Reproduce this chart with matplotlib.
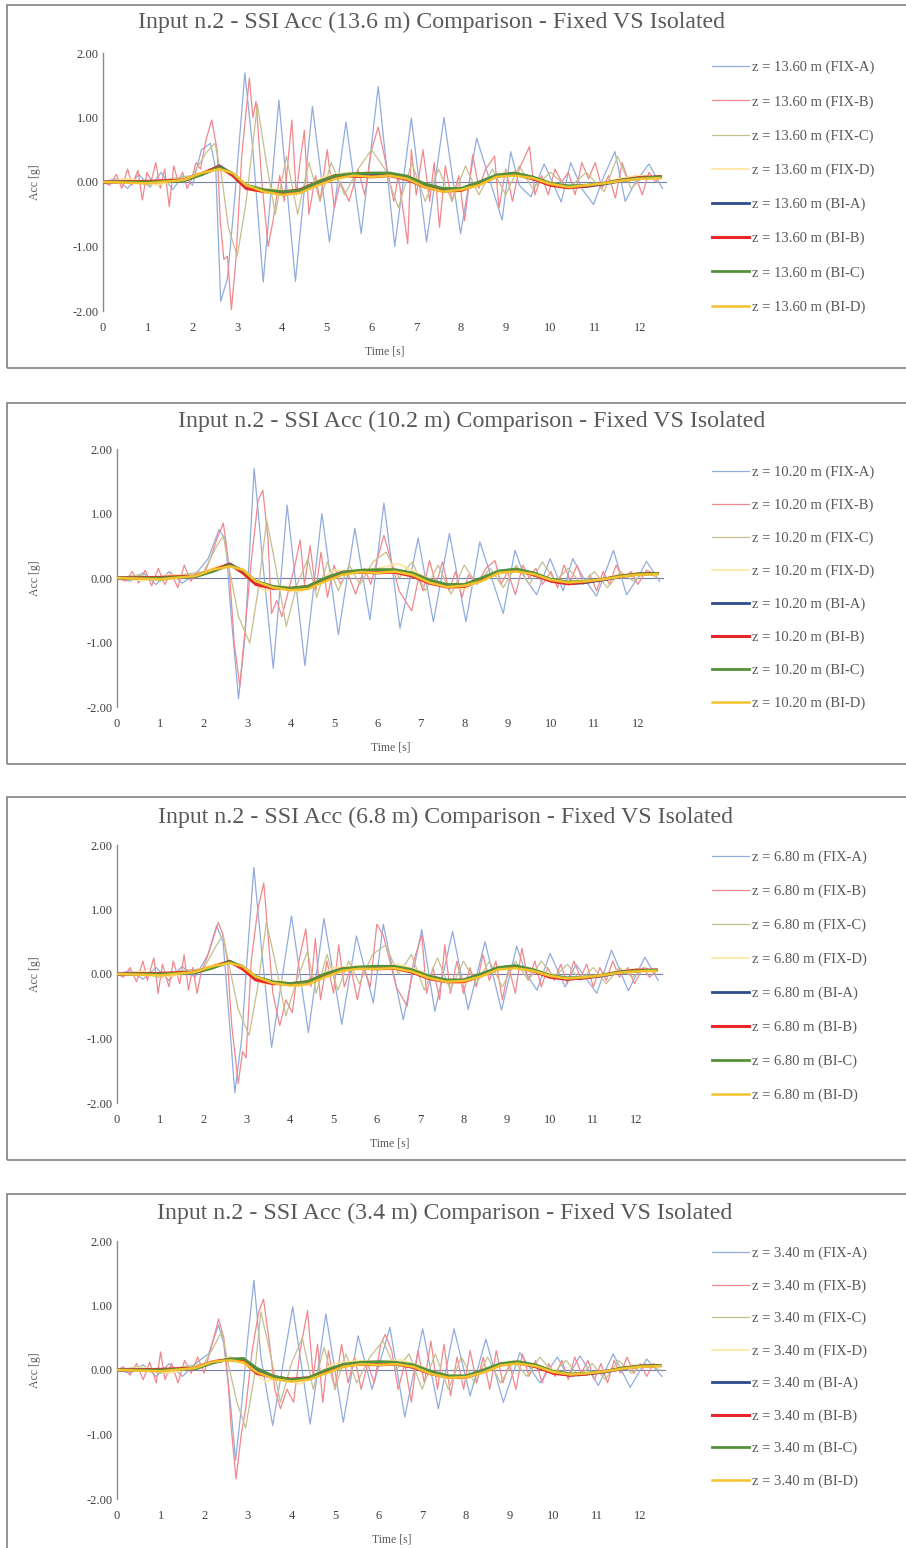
import matplotlib
matplotlib.use("Agg")
import matplotlib.pyplot as plt
from matplotlib.patches import Rectangle

plt.rcParams["font.family"] = ["Liberation Serif", "DejaVu Serif"]

# ---- data: acceleration histories [g] vs time [s] -------------------------
HEIGHTS = ["13.60", "10.20", "6.80", "3.40"]
TITLE_HEIGHTS = ["13.6", "10.2", "6.8", "3.4"]
SERIES = ["FIX-A", "FIX-B", "FIX-C", "FIX-D", "BI-A", "BI-B", "BI-C", "BI-D"]

# fixed-base records, (time, acc) pairs
P1_FIX_A = [(0.0, 0.0), (0.3, 0.05), (0.55, -0.1), (0.8, 0.12), (1.05, -0.08), (1.3, 0.15),
            (1.55, -0.12), (1.8, 0.1), (2.0, -0.05), (2.2, 0.5), (2.4, 0.6), (2.52, 0.2),
            (2.63, -1.85), (2.78, -1.5), (2.95, -0.2), (3.17, 1.69), (3.35, 0.5), (3.58, -1.55),
            (3.93, 1.27), (4.3, -1.54), (4.68, 1.17), (5.06, -0.93), (5.43, 0.93), (5.77, -0.8),
            (6.15, 1.48), (6.52, -1.0), (6.89, 0.99), (7.23, -0.93), (7.62, 1.0), (7.99, -0.8),
            (8.35, 0.68), (8.92, -0.59), (9.11, 0.47), (9.3, -0.05), (9.56, -0.23), (9.86, 0.28),
            (10.24, -0.31), (10.45, 0.3), (10.7, -0.1), (10.96, -0.35), (11.2, 0.1), (11.44, 0.47),
            (11.67, -0.3), (11.9, 0.0), (12.2, 0.28), (12.5, -0.1)]
P1_FIX_B = [(0.0, 0.0), (0.15, -0.05), (0.3, 0.12), (0.42, -0.1), (0.55, 0.2), (0.65, -0.05),
            (0.78, 0.18), (0.88, -0.28), (0.98, 0.15), (1.08, 0.02), (1.18, 0.3), (1.28, -0.1),
            (1.38, 0.2), (1.48, -0.38), (1.58, 0.25), (1.68, 0.0), (1.78, 0.15), (1.88, -0.1),
            (1.98, 0.05), (2.08, 0.3), (2.18, 0.2), (2.3, 0.65), (2.43, 0.96), (2.55, 0.5),
            (2.62, -0.6), (2.7, -1.2), (2.78, -1.15), (2.87, -1.98), (2.97, -1.2), (3.1, 0.4),
            (3.27, 1.61), (3.35, 1.0), (3.42, 1.25), (3.55, 0.0), (3.69, -1.0), (3.8, -0.6),
            (3.95, 0.1), (4.05, -0.3), (4.22, 0.96), (4.32, -0.2), (4.4, 0.3), (4.5, 0.8),
            (4.6, -0.5), (4.75, 0.1), (4.85, -0.3), (5.01, 0.5), (5.17, -0.4), (5.3, 0.0),
            (5.5, -0.3), (5.7, 0.2), (5.85, -0.2), (6.0, 0.5), (6.15, 0.85), (6.35, 0.2),
            (6.5, -0.3), (6.6, 0.1), (6.81, -0.96), (6.89, 0.5), (7.0, -0.2), (7.15, 0.5),
            (7.3, -0.3), (7.4, 0.3), (7.52, -0.7), (7.65, 0.25), (7.8, -0.3), (7.95, 0.1),
            (8.08, -0.6), (8.26, 0.42), (8.4, -0.1), (8.55, 0.2), (8.75, 0.4), (8.85, -0.4),
            (9.0, 0.2), (9.15, -0.3), (9.3, 0.2), (9.53, 0.55), (9.65, -0.2), (9.8, 0.1),
            (9.95, -0.2), (10.1, 0.2), (10.25, 0.0), (10.4, 0.15), (10.55, -0.2), (10.7, 0.3),
            (10.85, 0.05), (11.0, 0.3), (11.15, -0.1), (11.3, 0.1), (11.45, -0.25), (11.6, 0.3),
            (11.75, 0.0), (11.9, 0.1), (12.05, -0.2), (12.2, 0.15), (12.35, 0.0), (12.45, 0.1)]
P1_FIX_C = [(0.0, 0.0), (0.5, 0.05), (1.0, -0.05), (1.5, 0.05), (2.0, 0.1), (2.3, 0.45),
            (2.5, 0.6), (2.65, 0.1), (2.8, -0.7), (3.0, -1.15), (3.2, -0.3), (3.45, 1.2),
            (3.65, 0.3), (3.85, -0.5), (4.1, 0.4), (4.35, -0.5), (4.6, 0.3), (4.85, -0.3),
            (5.1, 0.3), (5.4, -0.2), (5.7, 0.2), (6.0, 0.5), (6.3, 0.2), (6.6, -0.4),
            (6.9, 0.3), (7.2, -0.3), (7.5, 0.2), (7.8, -0.3), (8.1, 0.25), (8.4, -0.2),
            (8.7, 0.2), (9.0, -0.2), (9.3, 0.25), (9.6, -0.1), (10.0, 0.15), (10.4, -0.1),
            (10.8, 0.15), (11.2, -0.15), (11.5, 0.4), (11.8, -0.1), (12.1, 0.1), (12.45, 0.05)]
P1_FIX_D = [(0.0, 0.0), (0.6, 0.05), (1.2, -0.05), (1.8, 0.05), (2.3, 0.15), (2.6, 0.2),
            (3.0, 0.05), (3.4, -0.15), (3.8, -0.1), (4.2, -0.2), (4.6, -0.05), (5.0, 0.1),
            (5.5, 0.15), (6.0, 0.1), (6.5, 0.12), (7.0, 0.05), (7.5, -0.15), (8.0, -0.15),
            (8.5, 0.0), (9.0, 0.15), (9.5, 0.1), (10.0, 0.0), (10.5, -0.1), (11.0, -0.05),
            (11.5, 0.05), (12.0, 0.1), (12.45, 0.05)]

P2_FIX_A = [(0.0, 0.0), (0.3, -0.05), (0.6, 0.08), (0.9, -0.1), (1.2, 0.1), (1.5, -0.08),
            (1.8, 0.05), (2.1, 0.3), (2.35, 0.75), (2.5, 0.6), (2.62, -0.5), (2.8, -1.87),
            (2.95, -0.9), (3.16, 1.7), (3.35, 0.3), (3.6, -1.4), (3.92, 1.13), (4.33, -1.36),
            (4.72, 1.0), (5.1, -0.88), (5.48, 0.77), (5.83, -0.65), (6.15, 1.16), (6.52, -0.78),
            (6.94, 0.62), (7.29, -0.68), (7.66, 0.69), (8.04, -0.68), (8.36, 0.56), (8.9, -0.55),
            (9.17, 0.43), (9.4, 0.0), (9.67, -0.26), (9.98, 0.3), (10.28, -0.2), (10.5, 0.3),
            (10.75, 0.0), (11.05, -0.28), (11.44, 0.43), (11.74, -0.26), (12.0, 0.0),
            (12.2, 0.26), (12.5, -0.05)]
P2_FIX_B = [(0.0, 0.0), (0.2, -0.05), (0.35, 0.1), (0.5, -0.08), (0.65, 0.12), (0.8, -0.12),
            (0.95, 0.15), (1.1, -0.1), (1.25, 0.08), (1.4, -0.15), (1.55, 0.2), (1.7, -0.05),
            (1.85, 0.1), (2.0, 0.05), (2.15, 0.3), (2.3, 0.6), (2.45, 0.85), (2.58, 0.2),
            (2.7, -1.0), (2.83, -1.68), (2.95, -0.8), (3.1, 0.3), (3.25, 1.2), (3.36, 1.36),
            (3.48, 0.6), (3.56, -0.55), (3.68, -0.35), (3.8, -0.6), (3.95, -0.2), (4.1, 0.2),
            (4.22, 0.59), (4.32, -0.1), (4.45, 0.5), (4.58, -0.2), (4.7, 0.4), (4.85, -0.3),
            (5.0, 0.2), (5.15, -0.1), (5.3, 0.1), (5.5, -0.25), (5.7, 0.15), (5.85, -0.1),
            (6.0, 0.3), (6.15, 0.66), (6.3, 0.3), (6.5, -0.2), (6.79, -0.51), (6.95, 0.0),
            (7.05, -0.2), (7.2, 0.27), (7.35, -0.1), (7.5, 0.25), (7.65, -0.2), (7.8, 0.1),
            (7.95, -0.3), (8.1, 0.05), (8.3, -0.1), (8.5, 0.15), (8.71, 0.27), (8.85, -0.1),
            (9.0, 0.1), (9.18, -0.26), (9.35, 0.2), (9.5, 0.0), (9.65, 0.15), (9.8, -0.1),
            (10.0, 0.1), (10.15, -0.15), (10.3, 0.2), (10.45, -0.05), (10.6, 0.2), (10.75, -0.1),
            (10.9, 0.05), (11.05, -0.2), (11.2, 0.1), (11.35, -0.1), (11.5, 0.2), (11.65, 0.0),
            (11.85, 0.1), (12.0, -0.1), (12.2, 0.12), (12.45, 0.05)]
P2_FIX_C = [(0.0, 0.0), (0.5, 0.05), (1.0, -0.05), (1.5, 0.05), (2.0, 0.1), (2.3, 0.5),
            (2.45, 0.65), (2.6, 0.1), (2.8, -0.6), (3.06, -1.01), (3.25, -0.2), (3.45, 0.9),
            (3.65, 0.2), (3.9, -0.75), (4.15, -0.1), (4.4, 0.3), (4.6, -0.3), (4.85, 0.25),
            (5.1, -0.2), (5.35, 0.2), (5.6, -0.1), (5.9, 0.25), (6.2, 0.4), (6.5, 0.0),
            (6.8, 0.25), (7.1, -0.2), (7.4, 0.2), (7.7, -0.25), (8.0, 0.2), (8.3, -0.1),
            (8.6, 0.15), (8.9, -0.15), (9.2, 0.2), (9.5, -0.1), (9.8, 0.25), (10.1, -0.05),
            (10.4, 0.15), (10.7, -0.1), (11.0, 0.1), (11.3, -0.15), (11.6, 0.1), (11.9, -0.05),
            (12.2, 0.1), (12.45, 0.0)]
P2_FIX_D = [(0.0, 0.0), (0.6, -0.04), (1.2, 0.05), (1.8, 0.03), (2.3, 0.18), (2.6, 0.22),
            (3.0, 0.0), (3.4, -0.2), (3.8, -0.12), (4.2, -0.22), (4.6, -0.08), (5.0, 0.12),
            (5.5, 0.1), (6.0, 0.15), (6.5, 0.22), (7.0, 0.05), (7.5, -0.12), (8.0, -0.18),
            (8.5, 0.02), (9.0, 0.12), (9.5, 0.08), (10.0, -0.02), (10.5, -0.1), (11.0, -0.04),
            (11.5, 0.04), (12.0, 0.08), (12.45, 0.04)]

P3_FIX_A = [(0.0, 0.0), (0.3, 0.05), (0.6, -0.08), (0.9, 0.1), (1.2, -0.1), (1.5, 0.12),
            (1.8, -0.05), (2.1, 0.3), (2.3, 0.75), (2.45, 0.5), (2.58, -0.6), (2.72, -1.84),
            (2.88, -1.0), (3.0, 0.2), (3.16, 1.65), (3.35, 0.3), (3.57, -1.14), (4.03, 0.9),
            (4.42, -0.91), (4.78, 0.86), (5.19, -0.78), (5.53, 0.59), (5.92, -0.45), (6.15, 0.77),
            (6.61, -0.71), (7.04, 0.69), (7.34, -0.58), (7.75, 0.66), (8.11, -0.55), (8.5, 0.5),
            (8.88, -0.56), (9.23, 0.43), (9.45, 0.0), (9.7, -0.25), (10.0, 0.32), (10.35, -0.2),
            (10.6, 0.15), (11.08, -0.3), (11.42, 0.37), (11.81, -0.26), (12.0, 0.0),
            (12.19, 0.26), (12.5, -0.1)]
P3_FIX_B = [(0.0, 0.0), (0.15, -0.05), (0.3, 0.1), (0.45, -0.12), (0.6, 0.2), (0.7, -0.1),
            (0.85, 0.25), (0.95, -0.3), (1.05, 0.15), (1.2, -0.2), (1.3, 0.2), (1.45, -0.15),
            (1.55, 0.3), (1.65, -0.25), (1.75, 0.1), (1.85, -0.3), (1.95, 0.05), (2.05, 0.2),
            (2.15, 0.4), (2.34, 0.8), (2.45, 0.6), (2.55, 0.2), (2.65, -0.8), (2.8, -1.7),
            (2.9, -1.2), (2.98, -1.3), (3.1, 0.2), (3.25, 1.0), (3.39, 1.41), (3.5, 0.5),
            (3.6, -0.3), (3.76, -0.8), (3.9, -0.4), (4.05, -0.6), (4.2, 0.2), (4.36, 0.7),
            (4.48, -0.2), (4.58, 0.55), (4.7, -0.4), (4.85, 0.2), (5.0, -0.3), (5.12, 0.45),
            (5.25, -0.2), (5.4, 0.1), (5.55, -0.4), (5.7, 0.1), (5.85, -0.2), (6.0, 0.77),
            (6.15, 0.6), (6.3, 0.2), (6.45, -0.2), (6.7, -0.5), (6.85, 0.2), (7.04, 0.6),
            (7.15, -0.3), (7.3, 0.1), (7.45, -0.4), (7.57, 0.45), (7.7, -0.3), (7.85, 0.2),
            (8.0, -0.3), (8.15, 0.1), (8.3, -0.2), (8.45, 0.3), (8.6, -0.1), (8.75, 0.2),
            (8.9, -0.4), (9.05, 0.1), (9.2, -0.3), (9.35, 0.4), (9.5, -0.1), (9.65, 0.2),
            (9.8, -0.2), (9.95, 0.1), (10.1, -0.1), (10.25, 0.15), (10.4, -0.15), (10.55, 0.2),
            (10.7, -0.05), (10.85, 0.15), (11.0, -0.2), (11.15, 0.1), (11.3, -0.1), (11.45, 0.2),
            (11.6, -0.05), (11.8, 0.1), (11.95, -0.15), (12.15, 0.1), (12.3, -0.05), (12.45, 0.05)]
P3_FIX_C = [(0.0, 0.0), (0.5, 0.04), (1.0, -0.06), (1.5, 0.06), (2.0, 0.08), (2.3, 0.45),
            (2.45, 0.6), (2.6, 0.1), (2.8, -0.55), (3.05, -0.95), (3.25, -0.2), (3.45, 0.8),
            (3.65, 0.2), (3.9, -0.65), (4.15, -0.1), (4.4, 0.35), (4.6, -0.3), (4.85, 0.3),
            (5.1, -0.25), (5.35, 0.2), (5.6, -0.15), (5.9, 0.3), (6.2, 0.45), (6.5, 0.0),
            (6.8, 0.3), (7.1, -0.25), (7.4, 0.25), (7.7, -0.25), (8.0, 0.2), (8.3, -0.15),
            (8.6, 0.2), (8.9, -0.2), (9.2, 0.2), (9.5, -0.1), (9.8, 0.2), (10.1, -0.05),
            (10.4, 0.15), (10.7, -0.1), (11.0, 0.1), (11.3, -0.15), (11.6, 0.1), (11.9, -0.05),
            (12.2, 0.1), (12.45, 0.0)]
P3_FIX_D = [(0.0, 0.0), (0.6, 0.04), (1.2, -0.04), (1.8, 0.04), (2.3, 0.16), (2.6, 0.2),
            (3.0, 0.02), (3.4, -0.16), (3.8, -0.1), (4.2, -0.2), (4.6, -0.06), (5.0, 0.1),
            (5.5, 0.12), (6.0, 0.1), (6.5, 0.15), (7.0, 0.05), (7.5, -0.12), (8.0, -0.15),
            (8.5, 0.0), (9.0, 0.13), (9.5, 0.1), (10.0, 0.0), (10.5, -0.08), (11.0, -0.05),
            (11.5, 0.04), (12.0, 0.08), (12.45, 0.05)]

P4_FIX_A = [(0.0, 0.0), (0.3, -0.05), (0.6, 0.08), (0.9, -0.1), (1.2, 0.1), (1.5, -0.1),
            (1.8, 0.1), (2.1, 0.25), (2.33, 0.7), (2.45, 0.4), (2.6, -0.5), (2.72, -1.4),
            (2.85, -0.6), (3.0, 0.5), (3.14, 1.39), (3.3, 0.2), (3.57, -0.86), (4.03, 0.98),
            (4.43, -0.84), (4.79, 0.87), (5.19, -0.81), (5.53, 0.53), (5.85, -0.3), (6.26, 0.66),
            (6.6, -0.73), (7.01, 0.64), (7.37, -0.6), (7.73, 0.64), (8.1, -0.4), (8.46, 0.48),
            (8.86, -0.5), (9.24, 0.27), (9.7, -0.2), (10.1, 0.2), (10.35, -0.1), (10.62, 0.22),
            (11.04, -0.24), (11.38, 0.25), (11.77, -0.27), (12.15, 0.17), (12.5, -0.1)]
P4_FIX_B = [(0.0, 0.0), (0.15, 0.05), (0.3, -0.08), (0.45, 0.1), (0.6, -0.15), (0.75, 0.12),
            (0.9, -0.2), (1.0, 0.28), (1.1, -0.15), (1.25, 0.1), (1.4, -0.2), (1.55, 0.15),
            (1.7, -0.05), (1.85, 0.2), (2.0, -0.05), (2.1, 0.2), (2.2, 0.45), (2.33, 0.79),
            (2.45, 0.5), (2.55, -0.2), (2.62, -0.9), (2.73, -1.69), (2.85, -1.0), (2.95, -0.6),
            (3.1, 0.3), (3.25, 0.9), (3.36, 1.1), (3.5, 0.4), (3.62, -0.3), (3.75, -0.6),
            (3.9, -0.3), (4.05, -0.5), (4.2, 0.3), (4.37, 0.92), (4.5, -0.1), (4.6, 0.4),
            (4.72, -0.5), (4.85, 0.3), (5.0, -0.3), (5.15, 0.4), (5.3, -0.2), (5.45, 0.2),
            (5.6, -0.3), (5.75, 0.1), (5.9, -0.2), (6.05, 0.4), (6.15, 0.55), (6.3, 0.3),
            (6.45, -0.3), (6.6, 0.1), (6.75, -0.5), (6.9, 0.3), (7.05, -0.2), (7.2, 0.45),
            (7.35, -0.3), (7.5, 0.4), (7.65, -0.4), (7.8, 0.2), (7.95, -0.3), (8.1, 0.3),
            (8.25, -0.2), (8.4, 0.2), (8.55, -0.3), (8.7, 0.3), (8.85, -0.2), (9.0, 0.1),
            (9.15, -0.3), (9.3, 0.25), (9.45, -0.1), (9.6, 0.15), (9.75, -0.2), (9.9, 0.1),
            (10.05, -0.1), (10.2, 0.15), (10.35, -0.15), (10.5, 0.2), (10.65, -0.05), (10.8, 0.15),
            (10.95, -0.15), (11.1, 0.1), (11.25, -0.2), (11.4, 0.15), (11.55, -0.05), (11.7, 0.2),
            (11.85, -0.05), (12.0, 0.1), (12.15, -0.1), (12.3, 0.1), (12.45, 0.05)]
P4_FIX_C = [(0.0, 0.0), (0.5, 0.05), (1.0, -0.05), (1.5, 0.05), (2.0, 0.1), (2.25, 0.4),
            (2.4, 0.6), (2.55, 0.1), (2.75, -0.5), (2.95, -0.9), (3.15, -0.1), (3.3, 0.9),
            (3.5, 0.3), (3.75, -0.5), (4.0, 0.1), (4.25, 0.5), (4.5, -0.3), (4.75, 0.35),
            (5.0, -0.3), (5.25, 0.25), (5.5, -0.2), (5.8, 0.2), (6.1, 0.45), (6.4, 0.0),
            (6.7, 0.25), (7.0, -0.3), (7.3, 0.25), (7.6, -0.3), (7.9, 0.2), (8.2, -0.2),
            (8.5, 0.2), (8.8, -0.2), (9.1, 0.15), (9.4, -0.1), (9.7, 0.2), (10.0, -0.05),
            (10.3, 0.15), (10.6, -0.1), (10.9, 0.1), (11.2, -0.15), (11.5, 0.15), (11.8, -0.05),
            (12.1, 0.1), (12.45, 0.0)]
P4_FIX_D = [(0.0, 0.0), (0.6, 0.04), (1.2, -0.05), (1.8, 0.05), (2.3, 0.15), (2.6, 0.2),
            (3.0, 0.05), (3.4, -0.18), (3.8, -0.1), (4.2, -0.22), (4.6, -0.05), (5.0, 0.1),
            (5.5, 0.15), (6.0, 0.12), (6.5, 0.16), (7.0, 0.05), (7.5, -0.12), (8.0, -0.14),
            (8.5, 0.0), (9.0, 0.14), (9.5, 0.1), (10.0, 0.0), (10.5, -0.08), (11.0, -0.06),
            (11.5, 0.04), (12.0, 0.08), (12.45, 0.06)]

# base-isolated records share one time grid
BI_T = [0.0, 1.0, 1.8, 2.2, 2.6, 2.9, 3.2, 3.6, 4.0, 4.4, 4.8, 5.2, 5.6, 6.0, 6.4,
        6.8, 7.2, 7.6, 8.0, 8.4, 8.8, 9.2, 9.6, 10.0, 10.4, 10.8, 11.2, 11.6, 12.0, 12.45]
P1_BI_A = [0.0, 0.0, 0.02, 0.12, 0.25, 0.12, -0.08, -0.14, -0.17, -0.15, -0.02, 0.08, 0.11, 0.1, 0.12,
           0.06, -0.06, -0.13, -0.12, -0.02, 0.1, 0.13, 0.07, -0.04, -0.08, -0.07, -0.03, 0.02, 0.06, 0.08]
P1_BI_B = [0.0, 0.01, 0.03, 0.13, 0.24, 0.1, -0.1, -0.15, -0.16, -0.12, 0.0, 0.1, 0.09, 0.08, 0.1,
           0.04, -0.08, -0.14, -0.13, -0.03, 0.09, 0.12, 0.05, -0.05, -0.09, -0.06, -0.02, 0.03, 0.07, 0.08]
P1_BI_C = [0.0, 0.0, 0.02, 0.11, 0.23, 0.13, -0.05, -0.12, -0.15, -0.13, 0.0, 0.1, 0.13, 0.14, 0.14,
           0.09, -0.03, -0.1, -0.1, 0.0, 0.11, 0.14, 0.08, -0.02, -0.06, -0.05, -0.02, 0.03, 0.06, 0.08]
P1_BI_D = [0.0, -0.02, 0.03, 0.14, 0.2, 0.14, -0.05, -0.15, -0.2, -0.17, -0.05, 0.05, 0.1, 0.08, 0.1,
           0.05, -0.08, -0.15, -0.12, -0.05, 0.08, 0.1, 0.06, -0.03, -0.08, -0.05, -0.02, 0.02, 0.05, 0.06]

P2_BI_A = [0.0, 0.0, 0.02, 0.11, 0.22, 0.1, -0.08, -0.15, -0.17, -0.15, -0.03, 0.07, 0.1, 0.1, 0.11,
           0.05, -0.06, -0.13, -0.12, -0.02, 0.1, 0.13, 0.06, -0.04, -0.09, -0.07, -0.03, 0.02, 0.06, 0.07]
P2_BI_B = [0.0, 0.01, 0.03, 0.12, 0.21, 0.08, -0.1, -0.16, -0.16, -0.13, -0.01, 0.09, 0.09, 0.08, 0.09,
           0.03, -0.08, -0.14, -0.13, -0.03, 0.09, 0.12, 0.05, -0.05, -0.09, -0.06, -0.02, 0.03, 0.06, 0.07]
P2_BI_C = [0.0, 0.0, 0.02, 0.1, 0.2, 0.12, -0.05, -0.13, -0.16, -0.13, 0.0, 0.09, 0.12, 0.13, 0.13,
           0.08, -0.03, -0.1, -0.1, 0.0, 0.11, 0.14, 0.08, -0.02, -0.06, -0.05, -0.02, 0.03, 0.06, 0.07]
P2_BI_D = [0.0, -0.02, 0.03, 0.13, 0.18, 0.13, -0.05, -0.15, -0.19, -0.17, -0.05, 0.05, 0.09, 0.08, 0.1,
           0.05, -0.07, -0.14, -0.12, -0.05, 0.08, 0.1, 0.06, -0.03, -0.07, -0.05, -0.02, 0.02, 0.05, 0.06]

P3_BI_A = [0.0, 0.0, 0.02, 0.1, 0.2, 0.1, -0.07, -0.14, -0.16, -0.14, -0.02, 0.07, 0.1, 0.1, 0.1,
           0.05, -0.05, -0.11, -0.11, -0.02, 0.09, 0.12, 0.06, -0.04, -0.08, -0.06, -0.03, 0.02, 0.05, 0.06]
P3_BI_B = [0.0, 0.01, 0.03, 0.11, 0.19, 0.08, -0.09, -0.15, -0.15, -0.12, -0.01, 0.08, 0.09, 0.08, 0.09,
           0.03, -0.07, -0.12, -0.12, -0.03, 0.08, 0.11, 0.05, -0.05, -0.08, -0.06, -0.02, 0.03, 0.06, 0.06]
P3_BI_C = [0.0, 0.0, 0.02, 0.09, 0.19, 0.12, -0.04, -0.12, -0.15, -0.12, 0.0, 0.08, 0.11, 0.12, 0.12,
           0.07, -0.03, -0.09, -0.09, 0.0, 0.1, 0.13, 0.07, -0.02, -0.06, -0.05, -0.02, 0.03, 0.05, 0.06]
P3_BI_D = [0.0, -0.02, 0.03, 0.12, 0.17, 0.12, -0.04, -0.14, -0.18, -0.16, -0.05, 0.05, 0.08, 0.08, 0.09,
           0.04, -0.06, -0.12, -0.11, -0.04, 0.07, 0.09, 0.05, -0.03, -0.07, -0.05, -0.02, 0.02, 0.04, 0.05]

P4_BI_A = [0.0, 0.0, 0.02, 0.12, 0.17, 0.16, 0.0, -0.1, -0.15, -0.14, -0.03, 0.06, 0.1, 0.11, 0.1,
           0.06, -0.04, -0.1, -0.1, -0.02, 0.08, 0.12, 0.07, -0.04, -0.08, -0.06, -0.03, 0.02, 0.06, 0.07]
P4_BI_B = [0.0, 0.01, 0.03, 0.13, 0.16, 0.14, -0.05, -0.12, -0.14, -0.12, -0.01, 0.08, 0.09, 0.08, 0.09,
           0.04, -0.06, -0.11, -0.11, -0.03, 0.08, 0.11, 0.05, -0.05, -0.08, -0.06, -0.02, 0.03, 0.06, 0.07]
P4_BI_C = [0.0, 0.0, 0.02, 0.11, 0.17, 0.18, 0.03, -0.1, -0.15, -0.12, 0.0, 0.09, 0.12, 0.13, 0.12,
           0.08, -0.02, -0.09, -0.09, 0.0, 0.1, 0.13, 0.08, -0.02, -0.06, -0.05, -0.02, 0.03, 0.06, 0.07]
P4_BI_D = [0.0, -0.02, 0.03, 0.13, 0.15, 0.12, -0.03, -0.14, -0.18, -0.15, -0.05, 0.05, 0.09, 0.08, 0.09,
           0.05, -0.06, -0.12, -0.11, -0.04, 0.07, 0.1, 0.06, -0.03, -0.07, -0.05, -0.02, 0.02, 0.05, 0.06]

X_TICKS = list(range(0, 13))
Y_TICKS = [-2.0, -1.0, 0.0, 1.0, 2.0]

PANELS = [
    (P1_FIX_A, P1_FIX_B, P1_FIX_C, P1_FIX_D, P1_BI_A, P1_BI_B, P1_BI_C, P1_BI_D),
    (P2_FIX_A, P2_FIX_B, P2_FIX_C, P2_FIX_D, P2_BI_A, P2_BI_B, P2_BI_C, P2_BI_D),
    (P3_FIX_A, P3_FIX_B, P3_FIX_C, P3_FIX_D, P3_BI_A, P3_BI_B, P3_BI_C, P3_BI_D),
    (P4_FIX_A, P4_FIX_B, P4_FIX_C, P4_FIX_D, P4_BI_A, P4_BI_B, P4_BI_C, P4_BI_D),
]

# ---- styling ---------------------------------------------------------------
COLORS = ["#91acdd", "#f2878d", "#c4c08e", "#ffe49a",
          "#2e4b8f", "#e8262c", "#55903a", "#f4c22c"]
WIDTHS = [0.9, 0.9, 0.9, 1.2, 2.0, 2.2, 2.0, 1.8]
TEXT_GREY = "#595959"

W, H = 906, 1548
# per panel, in pixels: frame top/bottom, axes left/top/bottom, px per second, title centre,
# legend top and row step
LAYOUT = [
    dict(frame=(5, 368), left=103, top=53, bottom=311, pps=44.75, title=(432, 22), leg=(61, 35.3)),
    dict(frame=(403, 764), left=117, top=449, bottom=707, pps=43.4, title=(472, 421), leg=(466, 34.0)),
    dict(frame=(797, 1160), left=117, top=845, bottom=1103, pps=43.3, title=(445, 817), leg=(851, 35.0)),
    dict(frame=(1194, 1560), left=117, top=1241, bottom=1499, pps=43.6, title=(445, 1213), leg=(1247, 33.6)),
]
X_MAX = 12.6

fig = plt.figure(figsize=(W / 100, H / 100), dpi=100)

for i, (series, lay) in enumerate(zip(PANELS, LAYOUT)):
    f_top, f_bot = lay["frame"]
    fig.add_artist(Rectangle((7 / W, 1 - f_bot / H), 1.0, (f_bot - f_top) / H,
                             transform=fig.transFigure, fill=False,
                             edgecolor="#808080", linewidth=1.2))

    left, top, bottom = lay["left"], lay["top"], lay["bottom"]
    width = X_MAX * lay["pps"]
    ax = fig.add_axes([left / W, 1 - bottom / H, width / W, (bottom - top) / H])

    ax.axhline(0, color="#6f7fa6", linewidth=0.8, zorder=1)
    for k, name in enumerate(SERIES):
        if k < 4:
            t = [p[0] for p in series[k]]
            v = [p[1] for p in series[k]]
        else:
            t, v = BI_T, series[k]
        ax.plot(t, v, color=COLORS[k], linewidth=WIDTHS[k], zorder=2 + k,
                solid_joinstyle="round", label=f"z = {HEIGHTS[i]} m ({name})")

    ax.set_xlim(0, X_MAX)
    ax.set_ylim(-2, 2)
    ax.set_xticks(X_TICKS)
    ax.set_yticks(Y_TICKS)
    ax.set_yticklabels([f"{y:.2f}" for y in Y_TICKS])
    ax.tick_params(length=0, labelsize=9, labelcolor="#404040")
    ax.tick_params(axis="x", pad=8)
    ax.tick_params(axis="y", pad=3)
    for s in ("top", "right", "bottom"):
        ax.spines[s].set_visible(False)
    ax.spines["left"].set_color("#8c8c8c")
    ax.spines["left"].set_linewidth(1.0)

    ax.set_xlabel("Time [s]", fontsize=8.5, color=TEXT_GREY)
    ax.xaxis.set_label_coords(0.5, -34 / (bottom - top), transform=ax.transAxes)
    ax.set_ylabel("Acc [g]", fontsize=8.5, color=TEXT_GREY)
    ax.yaxis.set_label_coords((41 - left) / width, 0.5, transform=ax.transAxes)

    tx, ty = lay["title"]
    fig.text(tx / W, 1 - ty / H,
             f"Input n.2 - SSI Acc ({TITLE_HEIGHTS[i]} m) Comparison - Fixed VS Isolated",
             ha="center", va="center", fontsize=17.2, color=TEXT_GREY)

    leg_top, step = lay["leg"]
    fs = 10.5
    fs_px = fs * 100 / 72
    ax.legend(loc="upper left", bbox_to_anchor=(712 / W, 1 - leg_top / H),
              bbox_transform=fig.transFigure, frameon=False, fontsize=fs,
              handlelength=37 / fs_px, handletextpad=0.2, borderpad=0, borderaxespad=0,
              labelspacing=(step - fs_px) / fs_px, labelcolor=TEXT_GREY)

fig.savefig("out.png", dpi=100)
